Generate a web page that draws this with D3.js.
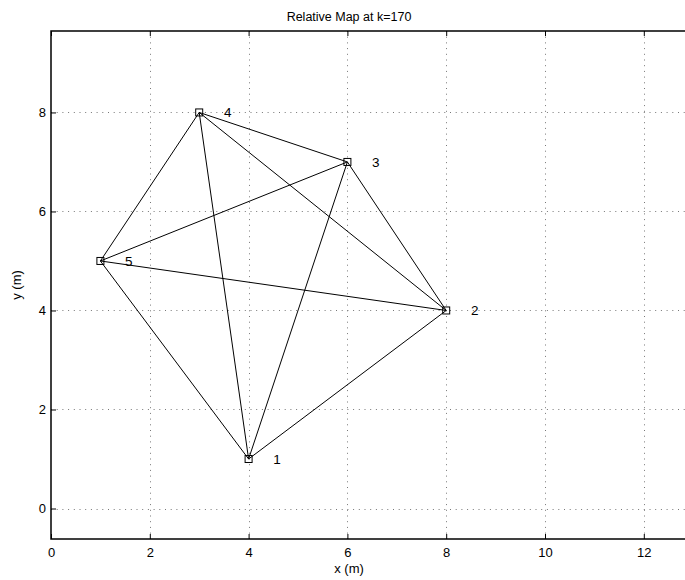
<!DOCTYPE html>
<html>
<head>
<meta charset="utf-8">
<script src="https://cdn.jsdelivr.net/npm/d3@7"></script>
<style>
  html, body { margin: 0; padding: 0; background: #fff; }
  svg { display: block; font-family: "Liberation Sans", Arial, Helvetica, sans-serif; }
</style>
</head>
<body>
<svg id="chart" width="685" height="580"></svg>
<script>
// Node positions of the relative map (metres)
const nodeIds = ["1", "2", "3", "4", "5"];
const nodeX = [4, 8, 6, 3, 1];
const nodeY = [1, 4, 7, 8, 5];
const xTicks = [0, 2, 4, 6, 8, 10, 12];
const yTicks = [0, 2, 4, 6, 8];
const titleText = "Relative Map at k=170";
const labelOffset = 0.5;

const svg = d3.select("#chart");

// Plot box; the right side runs past the window edge
const boxLeft = 51, boxTop = 31, boxBottom = 539;
const x = d3.scaleLinear().domain([0, 13]).range([boxLeft, boxLeft + 13 * 49.4]);
const y = d3.scaleLinear().domain([-0.616, 9.645]).range([boxBottom, boxTop]);
const boxRight = x(13);

const g = svg.append("g");

// Dotted grid
g.selectAll("line.gx").data(xTicks.filter(d => d > 0)).join("line")
  .attr("x1", d => Math.round(x(d)) + 0.5).attr("x2", d => Math.round(x(d)) + 0.5)
  .attr("y1", boxTop).attr("y2", boxBottom)
  .attr("stroke", "#777").attr("stroke-width", 1).attr("stroke-dasharray", "1,4.7");
g.selectAll("line.gy").data(yTicks).join("line")
  .attr("y1", d => Math.round(y(d)) + 0.5).attr("y2", d => Math.round(y(d)) + 0.5)
  .attr("x1", boxLeft).attr("x2", boxRight)
  .attr("stroke", "#777").attr("stroke-width", 1).attr("stroke-dasharray", "1,4.7");

// Axes with inward ticks
const axB = d3.axisBottom(x).tickValues(xTicks).tickSize(-5).tickPadding(9).tickFormat(d3.format("d"));
const axT = d3.axisTop(x).tickValues(xTicks).tickSize(-5).tickFormat("");
const axL = d3.axisLeft(y).tickValues(yTicks).tickSize(-5).tickPadding(5).tickFormat(d3.format("d"));

function styleAxis(sel) {
  sel.select(".domain").remove();
  sel.selectAll("line").attr("stroke", "#000");
  sel.selectAll("text").attr("fill", "#000").attr("font-size", 13);
}
svg.append("g").attr("transform", `translate(0,${boxBottom})`).call(axB).call(styleAxis);
svg.append("g").attr("transform", `translate(0,${boxTop})`).call(axT).call(styleAxis);
svg.append("g").attr("transform", `translate(${boxLeft},0)`).call(axL).call(styleAxis);

// Box frame
svg.append("rect").attr("x", boxLeft).attr("y", boxTop)
  .attr("width", boxRight - boxLeft).attr("height", boxBottom - boxTop)
  .attr("fill", "none").attr("stroke", "#000").attr("stroke-width", 1.5);

// Every pair of nodes is connected
const nodes = nodeIds.map((id, i) => ({ id, x: nodeX[i], y: nodeY[i] }));
const edges = [];
for (let i = 0; i < nodes.length; i++)
  for (let j = i + 1; j < nodes.length; j++) edges.push([nodes[i], nodes[j]]);

g.selectAll("line.edge").data(edges).join("line")
  .attr("x1", d => x(d[0].x)).attr("y1", d => y(d[0].y))
  .attr("x2", d => x(d[1].x)).attr("y2", d => y(d[1].y))
  .attr("stroke", "#000").attr("stroke-width", 1);

// Square markers
g.selectAll("rect.node").data(nodes).join("rect")
  .attr("x", d => x(d.x) - 3.5).attr("y", d => y(d.y) - 3.5)
  .attr("width", 7).attr("height", 7)
  .attr("fill", "none").attr("stroke", "#000").attr("stroke-width", 1);

// Node labels
g.selectAll("text.lbl").data(nodes).join("text")
  .attr("x", d => x(d.x + labelOffset)).attr("y", d => y(d.y) + 5)
  .attr("font-size", 13.5).attr("fill", "#000")
  .text(d => d.id);

// Title and axis titles
svg.append("text").attr("x", 349).attr("y", 21).attr("text-anchor", "middle")
  .attr("font-size", 12.5).text(titleText);
svg.append("text").attr("x", 349).attr("y", 573).attr("text-anchor", "middle")
  .attr("font-size", 13).text("x (m)");
svg.append("text").attr("transform", "translate(21,285) rotate(-90)")
  .attr("text-anchor", "middle").attr("font-size", 13).text("y (m)");
</script>
</body>
</html>
